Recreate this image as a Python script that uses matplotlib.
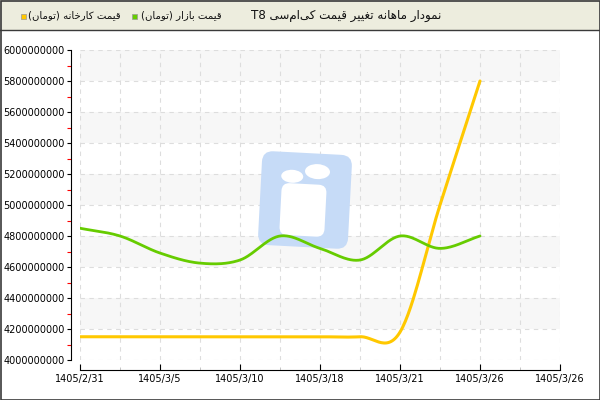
import re
import numpy as np
import matplotlib
matplotlib.use("Agg")
import matplotlib.pyplot as plt
from matplotlib.patches import Rectangle, FancyBboxPatch, Ellipse
from matplotlib.transforms import Affine2D
from matplotlib.ticker import MultipleLocator, FixedLocator, FuncFormatter

# data (one point every half category step)
tick_labels = ['1405/2/31', '1405/3/5', '1405/3/10', '1405/3/18',
               '1405/3/21', '1405/3/26', '1405/3/26']
market = [4.85e9, 4.80e9, 4.69e9, 4.625e9, 4.645e9, 4.80e9,
          4.72e9, 4.645e9, 4.80e9, 4.72e9, 4.80e9]
factory = [4.15e9, 4.15e9, 4.15e9, 4.15e9, 4.15e9, 4.15e9,
           4.15e9, 4.15e9, 4.18e9, 5.00e9, 5.80e9]

title = 'نمودار ماهانه تغییر قیمت کی\u200cام\u200cسی T8'
name_market = 'قیمت بازار (تومان)'
name_factory = 'قیمت کارخانه (تومان)'

# arabic presentation forms: isolated, final, initial, medial
FORMS = {
    'ا': ('\uFE8D', '\uFE8E'), 'د': ('\uFEA9', '\uFEAA'),
    'ر': ('\uFEAD', '\uFEAE'), 'ز': ('\uFEAF', '\uFEB0'),
    'و': ('\uFEED', '\uFEEE'),
    'ب': ('\uFE8F', '\uFE90', '\uFE91', '\uFE92'),
    'ت': ('\uFE95', '\uFE96', '\uFE97', '\uFE98'),
    'خ': ('\uFEA5', '\uFEA6', '\uFEA7', '\uFEA8'),
    'س': ('\uFEB1', '\uFEB2', '\uFEB3', '\uFEB4'),
    'غ': ('\uFECD', '\uFECE', '\uFECF', '\uFED0'),
    'ق': ('\uFED5', '\uFED6', '\uFED7', '\uFED8'),
    'م': ('\uFEE1', '\uFEE2', '\uFEE3', '\uFEE4'),
    'ن': ('\uFEE5', '\uFEE6', '\uFEE7', '\uFEE8'),
    'ه': ('\uFEE9', '\uFEEA', '\uFEEB', '\uFEEC'),
    'ک': ('\uFB8E', '\uFB8F', '\uFB90', '\uFB91'),
    'ی': ('\uFBFC', '\uFBFD', '\uFBFE', '\uFBFF'),
}


def rtl(text):
    out = []
    for i, c in enumerate(text):
        if c not in FORMS:
            if c != '\u200c':
                out.append(c)
            continue
        prev = text[i - 1] if i > 0 else ''
        nxt = text[i + 1] if i + 1 < len(text) else ''
        f = FORMS[c]
        jp = prev in FORMS and len(FORMS[prev]) == 4
        jn = nxt in FORMS and len(f) == 4
        if jp and jn:
            out.append(f[3])
        elif jp:
            out.append(f[1])
        elif jn:
            out.append(f[2])
        else:
            out.append(f[0])
    s = ''.join(out)
    toks = re.findall(r'[A-Za-z0-9]+|[^A-Za-z0-9]+', s)[::-1]
    res = ''
    for t in toks:
        if re.match(r'[A-Za-z0-9]', t):
            res += t
        else:
            res += t[::-1].translate(str.maketrans('()', ')('))
    return res


def smooth(y, n=30):
    # catmull-rom curve through the read points, just for drawing
    y = np.asarray(y, float)
    x = np.arange(len(y)) * 0.5
    m = np.zeros_like(y)
    m[1:-1] = (y[2:] - y[:-2]) / 2
    m[0] = y[1] - y[0]
    m[-1] = y[-1] - y[-2]
    xx, yy = [], []
    for i in range(len(y) - 1):
        t = np.linspace(0, 1, n, endpoint=False)
        h00 = 2*t**3 - 3*t**2 + 1
        h10 = t**3 - 2*t**2 + t
        h01 = -2*t**3 + 3*t**2
        h11 = t**3 - t**2
        yy.append(h00*y[i] + h10*m[i] + h01*y[i+1] + h11*m[i+1])
        xx.append(x[i] + t * 0.5)
    xx.append([x[-1]])
    yy.append([y[-1]])
    return np.concatenate(xx), np.concatenate(yy)


fig = plt.figure(figsize=(6, 4), dpi=100)
ax = fig.add_axes([80/600, 40/400, 480/600, 310/400])

# background bands
for lo in [4.2e9, 4.6e9, 5.0e9, 5.4e9, 5.8e9]:
    ax.axhspan(lo, lo + 2e8, color='#f7f7f7', zorder=0, lw=0)

ax.set_xlim(0, 6)
ax.set_ylim(4e9, 6e9)
ax.xaxis.set_major_locator(FixedLocator(range(7)))
ax.set_xticklabels(tick_labels)
ax.xaxis.set_minor_locator(MultipleLocator(0.5))
ax.yaxis.set_major_locator(MultipleLocator(2e8))
ax.yaxis.set_minor_locator(MultipleLocator(1e8))
ax.yaxis.set_major_formatter(FuncFormatter(lambda v, p: f'{v:.0f}'))

for v in np.arange(0, 6.01, 0.5):
    ax.axvline(v, color='#dddddd', lw=0.8, ls=(0, (4, 4)), zorder=0.5)
for v in np.arange(4e9, 6.01e9, 2e8):
    ax.axhline(v, color='#dddddd', lw=0.8, ls=(0, (4, 4)), zorder=0.5)

for s in ['top', 'right']:
    ax.spines[s].set_visible(False)
ax.spines['left'].set_position(('outward', 6.5))
ax.spines['bottom'].set_position(('outward', 7.2))
ax.spines['left'].set_linewidth(0.8)
ax.spines['bottom'].set_linewidth(0.8)

ax.tick_params(axis='y', which='major', length=3, width=0.8, direction='out',
               labelsize=7, pad=1.5, colors='black')
ax.tick_params(axis='y', which='minor', length=3, width=0.8, direction='out',
               color='red')
ax.tick_params(axis='x', which='major', length=4, width=0.8, direction='in',
               labelsize=7, pad=3)
ax.tick_params(axis='x', which='minor', length=2, width=0.6, direction='in',
               color='#bbbbbb')

# watermark logo
cx, cy = 305, 200
rot = Affine2D().rotate_deg_around(cx, cy, -3)
ax.add_patch(FancyBboxPatch((cx - 45, cy - 47), 90, 94,
                            boxstyle='round,pad=0,rounding_size=11',
                            fc='#c6dbf7', ec='none', transform=rot,
                            zorder=1, clip_on=False))
ax.add_patch(Ellipse((316, 400 - 171), 25, 15, fc='white', ec='none',
                     transform=rot, zorder=1.1, clip_on=False))
ax.add_patch(Ellipse((291, 400 - 177), 22, 13, fc='white', ec='none',
                     transform=rot, zorder=1.1, clip_on=False))
ax.add_patch(FancyBboxPatch((281, 400 - 236), 45, 52,
                            boxstyle='round,pad=0,rounding_size=8',
                            fc='white', ec='none', transform=rot,
                            zorder=1.1, clip_on=False))

xf, yf = smooth(factory)
xm, ym = smooth(market)
ax.plot(xf, yf, color='#ffc800', lw=2.2, zorder=3, solid_capstyle='round')
ax.plot(xm, ym, color='#66cc00', lw=2.0, zorder=3, solid_capstyle='round')

# header bar and frame
fig.patches.append(Rectangle((0, 370/400), 1, 30/400, transform=fig.transFigure,
                             fc='#ededde', ec='none', zorder=-1))
fig.add_artist(plt.Line2D([0, 1], [370.5/400, 370.5/400], color='#3a3a3a', lw=1))
fig.patches.append(Rectangle((0.5/600, 0.5/400), 599/600, 399/400,
                             transform=fig.transFigure, fill=False,
                             ec='#3a3a3a', lw=1.2, zorder=5))

ty = 1 - 15.5/400
fig.text(251/600, ty, rtl(title), ha='left', va='center', fontsize=8.6,
         family='DejaVu Sans', color='#111111')
fig.text(141/600, ty, rtl(name_market), ha='left', va='center', fontsize=7.3,
         family='DejaVu Sans', color='#111111')
fig.text(28/600, ty, rtl(name_factory), ha='left', va='center', fontsize=7.3,
         family='DejaVu Sans', color='#111111')
fig.patches.append(Rectangle((132/600, 1 - 18.5/400), 5/600, 5/400,
                             transform=fig.transFigure, fc='#66cc00',
                             ec='#999999', lw=0.5))
fig.patches.append(Rectangle((20.5/600, 1 - 18.5/400), 5/600, 5/400,
                             transform=fig.transFigure, fc='#ffc800',
                             ec='#999999', lw=0.5))

fig.savefig('out.png', dpi=100)
